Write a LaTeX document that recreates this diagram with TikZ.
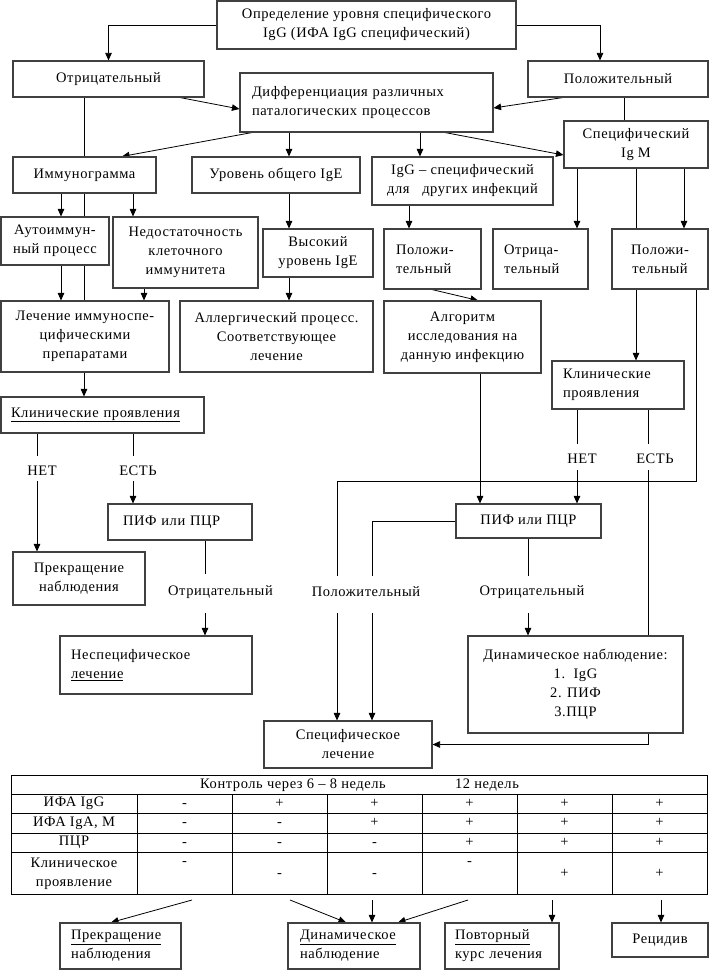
\documentclass[tikz,border=0pt]{standalone}
\usepackage{fontspec}
\setmainfont{Liberation Serif}[LetterSpace=4]
\usetikzlibrary{arrows.meta}
\pgfdeclarelayer{background}
\pgfsetlayers{background,main}
\newcommand\ff{\fontsize{14.5pt}{19pt}\selectfont}
\begin{document}
\begin{tikzpicture}[x=1pt,y=-1pt,
  box/.style={draw=black!75, line width=1.1pt, fill=white, font=\ff, align=center, inner xsep=2pt, inner ysep=0pt},
  lbox/.style={box, align=left},
  lab/.style={font=\ff, inner sep=1pt},
  tv/.style={font=\ff, inner sep=0pt, text height=9pt, text depth=0pt},
  arr/.style={-{Triangle[length=7.5pt,width=6.5pt]}, line width=0.8pt},
  ln/.style={line width=0.8pt},
  tl/.style={line width=0.9pt}]
\useasboundingbox (0,0) rectangle (709,971);

% ---------- boxes ----------
\node[box,minimum width=299pt,minimum height=48pt] (top) at (366.5,25) {Определение уровня специфического\\IgG (ИФА IgG специфический)};
\node[box,minimum width=191pt,minimum height=36pt] (neg) at (108.5,79) {Отрицательный};
\node[box,minimum width=180pt,minimum height=36pt] (pos) at (618,79) {Положительный};
\node[lbox,text width=229pt,inner xsep=12pt,minimum height=59pt] (diff) at (366.5,102.5) {Дифференциация различных\\паталогических процессов};
\node[box,minimum width=144pt,minimum height=47pt] (sigm) at (636,144.5) {Специфический\\Ig M};
\node[box,minimum width=143pt,minimum height=36pt] (immun) at (84.5,175) {Иммунограмма};
\node[box,minimum width=168pt,minimum height=36pt] (ige) at (276,175) {Уровень общего IgE};
\node[box,minimum width=181pt,minimum height=48pt] (iggo) at (462.5,181) {IgG – специфический\\для\ \ \ других инфекций};
\node[box,minimum width=108pt,minimum height=48pt] (auto) at (55,241) {Аутоиммун-\\ный процесс};
\node[box,minimum width=145pt,minimum height=71pt] (nedo) at (185.5,252.5) {Недостаточность\\клеточного\\иммунитета};
\node[box,minimum width=110pt,minimum height=48pt] (vys) at (318,253) {Высокий\\уровень IgE};
\node[lbox,text width=73pt,inner xsep=12pt,minimum height=60pt] (posL) at (432.5,259) {Положи-\\тельный};
\node[lbox,text width=73pt,inner xsep=11pt,minimum height=60pt] (negM) at (540.5,259) {Отрица-\\тельный};
\node[box,minimum width=96pt,minimum height=60pt] (posR) at (660,259) {Положи-\\тельный};
\node[box,minimum width=168pt,minimum height=71pt] (treat) at (85,336.5) {Лечение иммуноспе-\\цифическими\\препаратами};
\node[box,minimum width=193pt,minimum height=71pt] (allerg) at (276.5,336.5) {Аллергический процесс.\\Соответствующее\\лечение};
\node[box,minimum width=157pt,minimum height=72pt] (algo) at (462.5,337) {Алгоритм\\исследования на\\данную инфекцию};
\node[lbox,text width=110pt,inner xsep=11pt,minimum height=48pt] (clinR) at (618,385) {Клинические\\проявления};
\node[lbox,text width=183pt,inner xsep=10pt,minimum height=36pt] (clinL) at (102.5,415) {\underline{Клинические проявления}};
\node[lbox,text width=114pt,inner xsep=15pt,minimum height=36pt] (pifL) at (180,522) {ПИФ или ПЦР};
\node[box,minimum width=132pt,minimum height=53pt] (stopL) at (79,578.5) {Прекращение\\наблюдения};
\node[lbox,text width=170pt,inner xsep=11pt,minimum height=58pt] (nonspec) at (156,665) {Неспецифическое\\\underline{лечение}};
\node[box,minimum width=145pt,minimum height=34pt] (pifR) at (528.5,521) {ПИФ или ПЦР};
\node[box,minimum width=215pt,minimum height=97pt] (dyn) at (575.5,684.5) {Динамическое наблюдение:\\1.\ \ IgG\\2. ПИФ\\3.ПЦР};
\node[box,minimum width=168pt,minimum height=47pt] (spec) at (348,744.5) {Специфическое\\лечение};

\node[lbox,text width=99pt,inner xsep=11pt,minimum height=46pt] (bstop) at (120.5,946) {\underline{Прекращение}\\наблюдения};
\node[lbox,text width=108pt,inner xsep=12pt,minimum height=46pt] (bdyn) at (354,946) {\underline{Динамическое}\\наблюдение};
\node[lbox,text width=94pt,inner xsep=10pt,minimum height=46pt] (brep) at (502,946) {\underline{Повторный}\\курс лечения};
\node[box,minimum width=96pt,minimum height=34pt] (brec) at (660,940) {Рецидив};

% ---------- labels ----------
\node[lab] (netL) at (42,471) {НЕТ};
\node[lab] (estL) at (138,471) {ЕСТЬ};
\node[lab] (netR) at (582,459) {НЕТ};
\node[lab] (estR) at (655,459) {ЕСТЬ};
\node[lab] (otrL) at (220.5,592) {Отрицательный};
\node[lab] (polM) at (366,592) {Положительный};
\node[lab] (otrR) at (532,592) {Отрицательный};

% free ends
\coordinate (nL1) at (37,456);   \coordinate (nL2) at (37,481);
\coordinate (eL1) at (133,456);  \coordinate (eL2) at (133,481);
\coordinate (nR1) at (577,444);  \coordinate (nR2) at (577,470);
\coordinate (eR1) at (648,444);  \coordinate (eR2) at (648,470);
\coordinate (oL1) at (205,574);  \coordinate (oL2) at (205,613);
\coordinate (oR1) at (528,576);  \coordinate (oR2) at (528,613);
\coordinate (pA1) at (372,576);  \coordinate (pA2) at (372,613);
\coordinate (pB0) at (696,481);
\coordinate (pB1) at (337,576);  \coordinate (pB2) at (337,613);
\coordinate (t1) at (192,900); \coordinate (t2) at (290,900); \coordinate (t3) at (372,900);
\coordinate (t4) at (468,900); \coordinate (t5) at (552,900); \coordinate (t6) at (661,900);

% ---------- connectors ----------
\begin{pgfonlayer}{background}
\draw[arr] (top.west) -| (neg.north);
\draw[arr] (top.east) -| (600,0 |- pos.north);
\draw[arr] (180,0 |- neg.south) -- (diff.west |- 0,109);
\draw[arr] (563,0 |- pos.south) -- (diff.east |- 0,108);
\draw[ln] (624,0 |- pos.south) -- (624,0 |- sigm.north);
\draw[arr] (252,0 |- diff.south) -- (122,0 |- immun.north);
\draw[arr] (289,0 |- diff.south) -- (289,0 |- ige.north);
\draw[arr] (420,0 |- diff.south) -- (420,0 |- iggo.north);
\draw[arr] (445,0 |- diff.south) -- (sigm.west |- 0,155);
\draw[ln] (84,0 |- neg.south) -- (84,0 |- treat.north);
\draw[arr] (61,0 |- immun.south) -- (61,0 |- auto.north);
\draw[arr] (133,0 |- immun.south) -- (133,0 |- nedo.north);
\draw[arr] (61,0 |- auto.south) -- (61,0 |- treat.north);
\draw[arr] (144,0 |- nedo.south) -- (144,0 |- treat.north);
\draw[arr] (289,0 |- ige.south) -- (289,0 |- vys.north);
\draw[arr] (289,0 |- vys.south) -- (289,0 |- allerg.north);
\draw[arr] (409,0 |- iggo.south) -- (409,0 |- posL.north);
\draw[arr] (432,0 |- posL.south) -- (478,0 |- algo.north);
\draw[arr] (577,0 |- sigm.south) -- (577,0 |- negM.north);
\draw[arr] (684,0 |- sigm.south) -- (684,0 |- posR.north);
\draw[ln] (636,0 |- sigm.south) -- (636,0 |- posR.north);
\draw[arr] (636,0 |- posR.south) -- (636,0 |- clinR.north);
\draw[arr] (84,0 |- treat.south) -- (84,0 |- clinL.north);
\draw[arr] (480,0 |- algo.south) -- (480,0 |- pifR.north);
% left clinical
\draw[ln] (nL1 |- clinL.south) -- (nL1);
\draw[arr] (nL2) -- (nL2 |- stopL.north);
\draw[ln] (eL1 |- clinL.south) -- (eL1);
\draw[arr] (eL2) -- (eL2 |- pifL.north);
% right clinical
\draw[ln] (nR1 |- clinR.south) -- (nR1);
\draw[arr] (nR2) -- (nR2 |- pifR.north);
\draw[ln] (eR1 |- clinR.south) -- (eR1);
\draw[arr] (eR2) |- (spec.east);
% PIF outputs
\draw[ln] (oL1 |- pifL.south) -- (oL1);
\draw[arr] (oL2) -- (oL2 |- nonspec.north);
\draw[ln] (oR1 |- pifR.south) -- (oR1);
\draw[arr] (oR2) -- (oR2 |- dyn.north);
\draw[ln] (pifR.west) -| (pA1);
\draw[arr] (pA2) -- (pA2 |- spec.north);
\draw[ln] (pB0 |- posR.south) -- (pB0) -| (pB1);
\draw[arr] (pB2) -- (pB2 |- spec.north);
% table to bottom boxes
\draw[arr] (t1) -- (111,0 |- bstop.north);
\draw[arr] (t2) -- (346,0 |- bdyn.north);
\draw[arr] (t3) -- (t3 |- bdyn.north);
\draw[arr] (t4) -- (398,0 |- bdyn.north);
\draw[arr] (t5) -- (t5 |- brep.north);
\draw[arr] (t6) -- (t6 |- brec.north);
\end{pgfonlayer}

% ---------- table ----------
\draw[tl] (11,775) rectangle (707,894);
\foreach \y in {794,813,833,852} \draw[tl] (11,\y) -- (707,\y);
\foreach \x in {137,232,327,422,517,612} \draw[tl] (\x,794) -- (\x,894);
\node[lab] (h1) at (293,785) {Контроль через 6 – 8 недель};
\node[lab] (h2) at (487,785) {12 недель};
\node[lab] (rl1) at (74,803.5) {ИФА IgG};
\node[lab] (rl2) at (74,823) {ИФА IgA, M};
\node[lab] (rl3) at (74,842.5) {ПЦР};
\node[lab,align=center] (rl4) at (74,873.5) {Клиническое\\проявление};
\foreach \v [count=\i] in {-,+,+,+,+,+} \node[tv] (ra\i) at (89.5+95*\i,802.5) {\v};
\foreach \v [count=\i] in {-,-,+,+,+,+} \node[tv] (rb\i) at (89.5+95*\i,822) {\v};
\foreach \v [count=\i] in {-,-,-,+,+,+} \node[tv] (rc\i) at (89.5+95*\i,841.5) {\v};
\foreach \v/\yy [count=\i] in {-/861,-/873,-/873,-/861,+/873,+/873} \node[tv] (rd\i) at (89.5+95*\i,\yy) {\v};
\end{tikzpicture}
\end{document}
